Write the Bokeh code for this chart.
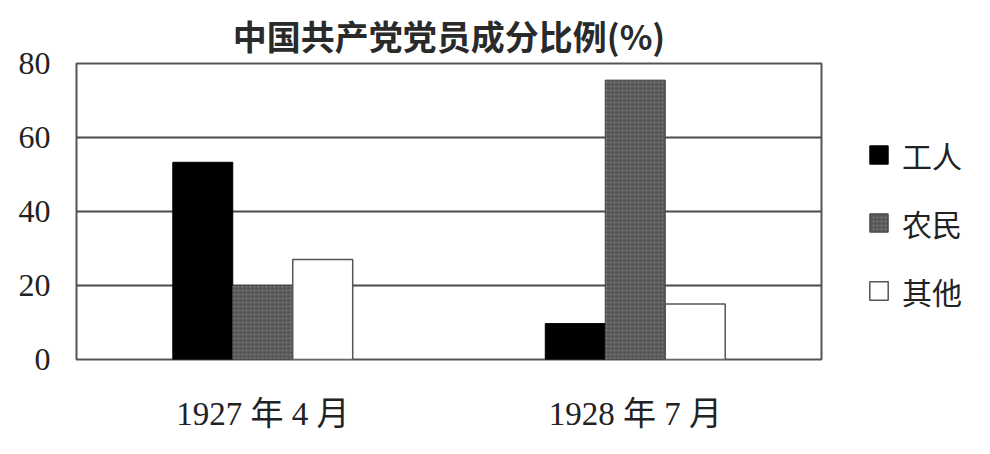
from bokeh.plotting import figure
from bokeh.layouts import row
from bokeh.models import ColumnDataSource, FactorRange, Range1d, Legend, LegendItem, FixedTicker, Title
from bokeh.transform import dodge
from bokeh.embed import file_html
from bokeh.resources import INLINE

categories = ["1927 年 4 月", "1928 年 7 月"]
series_names = ["工人", "农民", "其他"]
workers = [53.3, 9.7]
peasants = [20.0, 75.5]
others = [27.0, 15.0]
y_ticks = [0, 20, 40, 60, 80]

src = ColumnDataSource(dict(cat=categories, workers=workers, peasants=peasants, others=others))

p = figure(width=831, height=444, x_range=FactorRange(*categories, range_padding=0),
           y_range=Range1d(0, 80), output_backend="svg", toolbar_location=None,
           min_border_left=76, min_border_right=10, min_border_top=63, min_border_bottom=85)

p.title = Title(text="中国共产党党员成分比例(%)", align="center", standoff=8,
                text_font="'Noto Sans CJK SC'", text_font_size="34px",
                text_font_style="bold", text_color="#2a2a2a")

styles = [
    dict(fill_color="black", line_color="black", line_width=1),
    dict(fill_color="#585858", line_color="#444444", line_width=1,
         hatch_pattern="dot", hatch_color="#7c7c7c", hatch_scale=4, hatch_weight=1.5),
    dict(fill_color="white", line_color="#555555", line_width=1.5),
]
cols = ["workers", "peasants", "others"]
w = 0.161
offsets = [-w, 0, w]
for col, off, st in zip(cols, offsets, styles):
    p.vbar(x=dodge("cat", off, range=p.x_range), top=col, width=w, source=src, **st)

p.outline_line_color = "#555555"
p.outline_line_width = 2
p.xgrid.grid_line_color = None
p.ygrid.grid_line_color = "#4a4a4a"
p.ygrid.grid_line_width = 2
p.yaxis.ticker = FixedTicker(ticks=y_ticks)
p.yaxis.axis_line_color = None
p.yaxis.major_tick_line_color = None
p.yaxis.minor_tick_line_color = None
p.yaxis.major_tick_out = 0
p.yaxis.major_label_standoff = 26
p.yaxis.major_label_text_font = "'Liberation Serif'"
p.yaxis.major_label_text_font_size = "32px"
p.yaxis.major_label_text_color = "#222222"
p.xaxis.axis_line_color = None
p.xaxis.major_tick_line_color = None
p.xaxis.major_tick_out = 0
p.xaxis.major_label_standoff = 36
p.xaxis.major_label_text_font = "'Liberation Serif', 'Noto Sans CJK SC'"
p.xaxis.major_label_text_font_size = "33px"
p.xaxis.major_label_text_color = "#222222"

# legend panel to the right of the chart (its bars lie outside its visible area)
q = figure(width=150, height=444, x_range=FactorRange(*categories), y_range=Range1d(100, 200),
           output_backend="svg", toolbar_location=None, min_border=0, title=None)
q.axis.visible = False
q.grid.grid_line_color = None
q.outline_line_color = None
items = []
for name, col, st in zip(series_names, cols, styles):
    r = q.vbar(x=dodge("cat", 6, range=q.x_range), top=col, width=0.1, source=src, **st)
    items.append(LegendItem(label=name, renderers=[r]))

legend = Legend(items=items, location=(36, 46), glyph_width=23, glyph_height=23,
                label_height=45, spacing=23, label_standoff=12, padding=0, margin=0,
                label_text_font="'Noto Sans CJK SC'", label_text_font_size="30px",
                label_text_color="#222222", border_line_color=None, background_fill_alpha=0)
q.add_layout(legend, "center")

layout = row(p, q, spacing=0)
open("out.html", "w").write(file_html(layout, INLINE))
